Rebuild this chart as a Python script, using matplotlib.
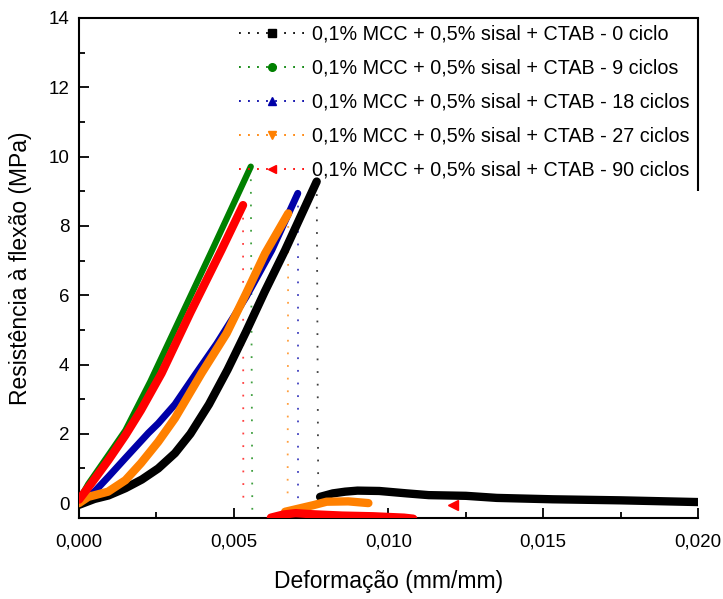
import matplotlib
matplotlib.use("Agg")
import matplotlib.pyplot as plt
from matplotlib.lines import Line2D

plt.rcParams['font.family'] = ['Liberation Sans', 'DejaVu Sans']

# ---- data -------------------------------------------------------------
labels = [
    "0,1% MCC + 0,5% sisal + CTAB - 0 ciclo",
    "0,1% MCC + 0,5% sisal + CTAB - 9 ciclos",
    "0,1% MCC + 0,5% sisal + CTAB - 18 ciclos",
    "0,1% MCC + 0,5% sisal + CTAB - 27 ciclos",
    "0,1% MCC + 0,5% sisal + CTAB - 90 ciclos",
]
colors = ["#000000", "#008000", "#0000A8", "#FF8000", "#FF0000"]
markers = ["s", "o", "^", "v", "<"]

# 0 ciclo
x_c0_rise = [0.0, 0.0005, 0.00095, 0.0015, 0.00203, 0.00256, 0.0031, 0.0036, 0.0042, 0.0048, 0.0054, 0.0060, 0.00666, 0.00768]
y_c0_rise = [-0.05, 0.12, 0.22, 0.43, 0.68, 1.0, 1.44, 2.0, 2.85, 3.85, 4.95, 6.1, 7.3, 9.28]
x_c0_drop = [0.00768, 0.00773, 0.00779]
y_c0_drop = [9.28, 0.18, 0.18]
x_c0_tail = [0.00779, 0.0082, 0.0086, 0.009, 0.0097, 0.0106, 0.0113, 0.0125, 0.0135, 0.0153, 0.0175, 0.02]
y_c0_tail = [0.18, 0.28, 0.33, 0.36, 0.35, 0.28, 0.23, 0.21, 0.15, 0.11, 0.08, 0.03]

# 9 ciclos
x_c9_rise = [0.0, 0.0003, 0.001, 0.0015, 0.0023, 0.0033, 0.0043, 0.00555]
y_c9_rise = [0.08, 0.55, 1.45, 2.1, 3.5, 5.4, 7.3, 9.71]
x_c9_drop = [0.00555, 0.0056]
y_c9_drop = [9.71, -0.3]

# 18 ciclos
x_c18_rise = [0.0, 0.0005, 0.00095, 0.0015, 0.00224, 0.00256, 0.0031, 0.00375, 0.00445, 0.0054, 0.00623, 0.00707]
y_c18_rise = [0.1, 0.33, 0.76, 1.3, 2.02, 2.3, 2.85, 3.7, 4.6, 5.95, 7.3, 8.94]
x_c18_drop = [0.00707, 0.00707]
y_c18_drop = [8.94, 0.1]

# 27 ciclos
x_c27_rise = [0.0, 0.0003, 0.00094, 0.0015, 0.002, 0.00256, 0.0031, 0.00396, 0.00477, 0.0054, 0.00601, 0.00676]
y_c27_rise = [0.0, 0.18, 0.33, 0.66, 1.15, 1.77, 2.45, 3.75, 4.9, 6.05, 7.2, 8.36]
x_c27_drop = [0.00676, 0.00674]
y_c27_drop = [8.36, 0.0]
x_c27_tail = [0.00666, 0.00757, 0.008, 0.0087, 0.00935]
y_c27_tail = [-0.25, -0.06, 0.04, 0.05, 0.0]

# 90 ciclos
x_c90_rise = [0.0, 0.0004, 0.00095, 0.0015, 0.002, 0.00267, 0.0036, 0.0046, 0.0053]
y_c90_rise = [0.1, 0.57, 1.24, 1.96, 2.68, 3.75, 5.5, 7.3, 8.6]
x_c90_drop = [0.0053, 0.00531]
y_c90_drop = [8.6, -0.1]
x_c90_tail = [0.0062, 0.0066, 0.007, 0.0075, 0.0085, 0.0095, 0.0105, 0.0108]
y_c90_tail = [-0.42, -0.33, -0.29, -0.32, -0.36, -0.38, -0.42, -0.45]
x_c90_end = [0.0121, 0.0121]
y_c90_end = [-0.05, -0.6]

rises = [(x_c0_rise, y_c0_rise), (x_c9_rise, y_c9_rise), (x_c18_rise, y_c18_rise),
         (x_c27_rise, y_c27_rise), (x_c90_rise, y_c90_rise)]
drops = [(x_c0_drop, y_c0_drop), (x_c9_drop, y_c9_drop), (x_c18_drop, y_c18_drop),
         (x_c27_drop, y_c27_drop), (x_c90_drop, y_c90_drop)]
tails = [(x_c0_tail, y_c0_tail), None, None, (x_c27_tail, y_c27_tail), (x_c90_tail, y_c90_tail)]
widths = [6.0, 4.5, 5.0, 6.0, 6.0]

x_ticks = [0.0, 0.005, 0.010, 0.015, 0.020]
x_ticklabels = ["0,000", "0,005", "0,010", "0,015", "0,020"]
y_ticks = [0, 2, 4, 6, 8, 10, 12, 14]

# ---- figure -----------------------------------------------------------
fig = plt.figure(figsize=(7.23, 5.99), dpi=100)
ax = fig.add_axes([79 / 723, 1 - 518 / 599, 619 / 723, 500 / 599])

dots = (0, (1, 6))
for i in range(5):
    c = colors[i]
    xd, yd = drops[i]
    ax.plot(xd, yd, color=c, lw=1.3, ls=dots, alpha=0.75, zorder=2)
    xr, yr = rises[i]
    ax.plot(xr, yr, color=c, lw=widths[i], solid_capstyle="round",
            solid_joinstyle="round", zorder=3 + i)
    if tails[i] is not None:
        xt, yt = tails[i]
        ax.plot(xt, yt, color=c, lw=widths[i], solid_capstyle="round",
                solid_joinstyle="round", zorder=3 + i)

ax.plot(x_c90_end, y_c90_end, color=colors[4], lw=1.3, ls=dots, zorder=2)
ax.plot(x_c90_end[:1], y_c90_end[:1], marker="<", color=colors[4], ms=7, ls="none", zorder=8)

ax.set_xlim(0, 0.020)
ax.set_ylim(-0.43, 14)
ax.set_xticks(x_ticks)
ax.set_xticklabels(x_ticklabels)
ax.set_xticks([0.0025, 0.0075, 0.0125, 0.0175], minor=True)
ax.set_yticks(y_ticks)
ax.set_yticks([1, 3, 5, 7, 9, 11, 13], minor=True)
ax.tick_params(which="major", direction="in", length=7, width=1.3, labelsize=13.5, pad=7)
ax.tick_params(which="minor", direction="in", length=4, width=1.3)
ax.tick_params(axis="x", which="major", pad=11)

for s in ["left", "bottom", "top"]:
    ax.spines[s].set_linewidth(1.5)
ax.spines["right"].set_visible(False)
ax.plot([1, 1], [(9.0 + 0.43) / 14.43, 1], transform=ax.transAxes, color="black",
        lw=1.5, clip_on=False, solid_capstyle="butt")

ax.set_xlabel("Deformação (mm/mm)", fontsize=16.5, labelpad=14)
ax.set_ylabel("Resistência à flexão (MPa)", fontsize=16.5, labelpad=12)

handles = []
for i in range(5):
    h = Line2D([0, 0.5, 1], [0, 0, 0], color=colors[i], ls=(0, (1, 4)), lw=1.3,
               marker=markers[i], markersize=5.5, markevery=[1])
    handles.append(h)
leg = ax.legend(handles, labels, loc="upper left", bbox_to_anchor=(0.258, 0.987),
                frameon=False, fontsize=14.2, handlelength=3.4, handletextpad=0.3,
                labelspacing=0.76, borderaxespad=0.0, borderpad=0.0)

fig.savefig("out.png", dpi=100)
